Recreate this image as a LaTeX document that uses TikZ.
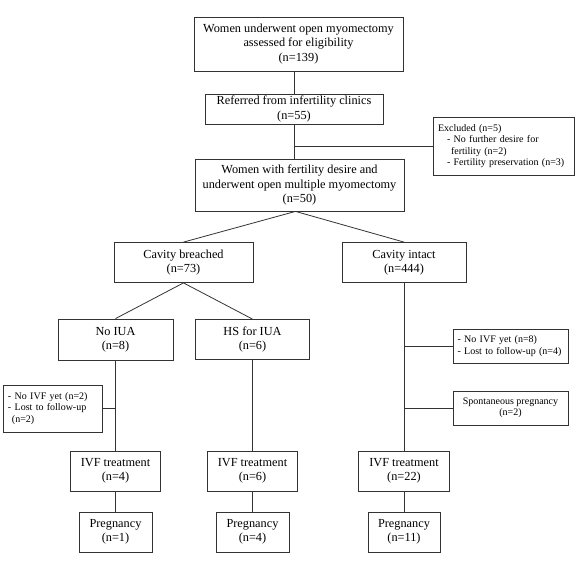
\documentclass[tikz,border=0pt]{standalone}
\usepackage{fontspec}
\setmainfont{Liberation Serif}
\begin{document}
\begin{tikzpicture}[x=1pt,y=-1pt,
  box/.style={draw=black!80, line width=0.8pt, align=center, inner sep=0pt,
    font=\fontsize{12.3}{14.5}\selectfont},
  sbox/.style={draw=black!80, line width=0.8pt, inner sep=0pt,
    font=\fontsize{10}{11.5}\selectfont},
  conn/.style={draw=black!80, line width=0.8pt}]
\useasboundingbox (0,0) rectangle (582,573);
% main column
\node[box, minimum width=209pt, minimum height=54pt] (top) at (298.5,44)
  {Women underwent open myomectomy\\assessed for eligibility\\(n=139)};
\node[box, minimum width=178pt, minimum height=30pt] (ref) at (294,109)
  {Referred from infertility clinics\\(n=55)};
\node[sbox, minimum width=141pt, minimum height=58pt, text width=131pt, align=left] (excl) at (503.5,146)
  {Excluded (n=5)\\\hspace*{9pt}- No further desire for\\\hspace*{13pt}fertility (n=2)\\\hspace*{9pt}- Fertility preservation (n=3)};
\node[box, minimum width=209pt, minimum height=52pt] (women) at (299.5,185)
  {Women with fertility desire and\\underwent open multiple myomectomy\\(n=50)};
\node[box, minimum width=139pt, minimum height=40pt] (cb) at (183.5,262.5)
  {Cavity breached\\(n=73)};
\node[box, minimum width=124pt, minimum height=40pt] (ci) at (404,262.5)
  {Cavity intact\\(n=444)};
% left branch
\node[box, minimum width=115pt, minimum height=41pt] (noiua) at (115.5,339.5)
  {No IUA\\(n=8)};
\node[sbox, minimum width=99pt, minimum height=47pt, text width=89pt, align=left] (noivf1) at (52.5,408.5)
  {- No IVF yet (n=2)\\- Lost to follow-up\\\hspace*{4pt}(n=2)};
\node[box, minimum width=90pt, minimum height=40pt] (ivf1) at (115.5,471)
  {IVF treatment\\(n=4)};
\node[box, minimum width=73pt, minimum height=40pt] (preg1) at (115.5,532)
  {Pregnancy\\(n=1)};
% middle branch
\node[box, minimum width=114pt, minimum height=40pt] (hs) at (252.5,339.5)
  {HS for IUA\\(n=6)};
\node[box, minimum width=90pt, minimum height=40pt] (ivf2) at (252.5,471)
  {IVF treatment\\(n=6)};
\node[box, minimum width=73pt, minimum height=40pt] (preg2) at (252.5,532)
  {Pregnancy\\(n=4)};
% right branch
\node[sbox, minimum width=115pt, minimum height=34pt, text width=106pt, align=left, inner xsep=0pt] (noivf3) at (510.5,346)
  {\hspace*{0pt}- No IVF yet (n=8)\\- Lost to follow-up (n=4)};
\node[sbox, minimum width=115pt, minimum height=34pt, align=center] (spont) at (510.5,408)
  {Spontaneous pregnancy\\(n=2)};
\node[box, minimum width=91pt, minimum height=40pt] (ivf3) at (404,471)
  {IVF treatment\\(n=22)};
\node[box, minimum width=72pt, minimum height=40pt] (preg3) at (404,532)
  {Pregnancy\\(n=11)};
% connectors
\draw[conn] (ref.north |- top.south) -- (ref.north);
\draw[conn] (ref.south) -- (ref.south |- women.north);
\coordinate (ej) at (ref.south |- excl.west);
\draw[conn] (ej) -- (excl.west);
\coordinate (ws) at ([xshift=-4pt]women.south);
\draw[conn] (ws) -- (cb.north);
\draw[conn] (ws) -- (ci.north);
\draw[conn] (cb.south) -- (noiua.north);
\draw[conn] (cb.south) -- (hs.north);
\draw[conn] (noiua.south) -- (ivf1.north);
\draw[conn] (ivf1.south) -- (preg1.north);
\draw[conn] (noivf1.east) -- (noivf1.east -| noiua.south);
\draw[conn] (hs.south) -- (ivf2.north);
\draw[conn] (ivf2.south) -- (preg2.north);
\draw[conn] (ci.south) -- (ivf3.north);
\draw[conn] (ivf3.south) -- (preg3.north);
\draw[conn] (noivf3.west -| ci.south) -- (noivf3.west);
\draw[conn] (spont.west -| ci.south) -- (spont.west);
\end{tikzpicture}
\end{document}
